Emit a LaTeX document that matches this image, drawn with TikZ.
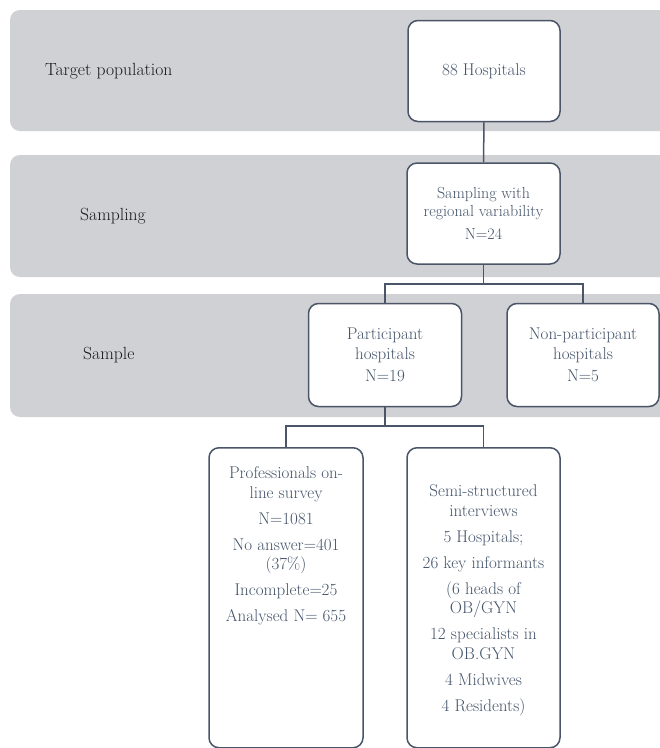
\documentclass[tikz,border=0pt]{standalone}
\usepackage{fontspec}
\definecolor{bandgray}{RGB}{208,209,213}
\definecolor{boxline}{RGB}{74,85,104}
\definecolor{txtcol}{RGB}{68,84,106}
\definecolor{lblcol}{RGB}{25,25,25}
\newcommand\myboxfont{\fontsize{17}{19.5}\selectfont}
\newcommand\mysmallfont{\fontsize{16}{17.5}\selectfont}
\newcommand\mylblfont{\fontsize{17.6}{20}\selectfont}
\tikzset{
  band/.style={fill=bandgray, draw=none, rounded corners=10pt},
  flowbox/.style={draw=boxline, line width=1.5pt, fill=white, rounded corners=10pt,
    inner sep=0pt, text=txtcol, align=center, font=\myboxfont},
  boxtext/.style={inner sep=0pt, text=txtcol, align=center, font=\myboxfont},
  bandlabel/.style={inner sep=0pt, text=lblcol, anchor=west, font=\mylblfont},
  conn/.style={draw=boxline, line width=1.5pt},
}
\begin{document}
\begin{tikzpicture}[x=1pt,y=-1pt]
\useasboundingbox (0,0) rectangle (660,748);
\clip (0,0) rectangle (660,748);
% bands
\fill[band] (10,10) rectangle (690,131);
\fill[band] (10,155) rectangle (690,277);
\fill[band] (10,294) rectangle (690,417);
% band labels
\node[bandlabel] (L1) at (45,71) {Target population};
\node[bandlabel] (L2) at (80,216) {Sampling};
\node[bandlabel] (L3) at (83,355) {Sample};
% boxes
\node[flowbox, minimum width=152pt, minimum height=101pt] (A) at (484,71) {88 Hospitals};
\node[flowbox, minimum width=153pt, minimum height=101pt, font=\mysmallfont] (B) at (483.5,213.5)
  {Sampling with\\regional variability\\[6pt]N=24};
\node[flowbox, minimum width=153pt, minimum height=103pt] (C) at (385,355)
  {Participant\\hospitals\\[3pt]N=19};
\node[flowbox, minimum width=152pt, minimum height=103pt] (D) at (583,355)
  {Non-participant\\hospitals\\[3pt]N=5};
\node[flowbox, minimum width=154pt, minimum height=300pt, anchor=north] (E) at (286,447) {};
\node[flowbox, minimum width=153pt, minimum height=300pt, anchor=north] (F) at (483.5,447) {};
\node[boxtext] (Et) at (286,546)
  {Professionals on-\\line survey\\[6.5pt]N=1081\\[6.5pt]No answer=401\\(37\%)\\[6.5pt]Incomplete=25\\[6.5pt]Analysed N= 655};
\node[boxtext] (Ft) at (483.5,600)
  {Semi-structured\\interviews\\[6.5pt]5 Hospitals;\\[6.5pt]26 key informants\\[6.5pt](6 heads of\\OB/GYN\\[6.5pt]12 specialists in\\OB.GYN\\[6.5pt]4 Midwives\\[6.5pt]4 Residents)};
% connectors
\draw[conn] (A.south) -- (B.north);
\coordinate (j1) at (483.5,284);
\draw[conn] (B.south) -- (j1);
\draw[conn] (C.north) |- (j1) -| (D.north);
\coordinate (j2) at (385,426);
\draw[conn] (C.south) -- (j2);
\draw[conn] (E.north) |- (j2) -| (F.north);
\end{tikzpicture}
\end{document}
